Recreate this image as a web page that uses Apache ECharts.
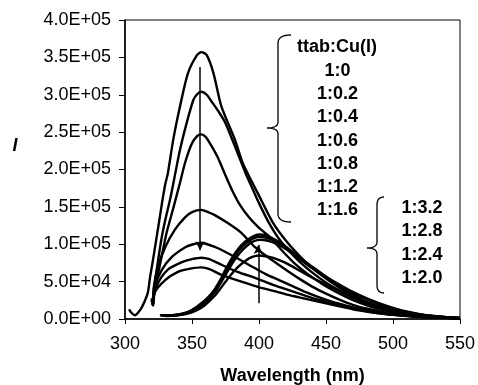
<!DOCTYPE html>
<html><head><meta charset="utf-8">
<script src="https://cdn.jsdelivr.net/npm/echarts@6/dist/echarts.min.js"></script>
<style>html,body{margin:0;padding:0;background:#fff}#c{width:478px;height:385px}</style>
</head><body><div id="c"></div>
<script>
// Data: [wavelength (nm), intensity]
const r1_0 = [[303,13000],[305,8000],[307.5,5000],[310,9000],[312.7,16000],[317,35000],[318.7,56000],[320.5,75000],[322.4,96000],[325,125000],[327.6,155000],[330,180000],[332,195000],[336,240000],[341,284000],[347,329000],[353.7,353000],[357,357000],[361,353000],[366,329000],[372,284000],[382,240000],[388,208000],[394,186000],[400,165000],[410,130000],[420,105000],[430,85000],[440,68000],[450,54000],[460,42000],[470,32000],[480,23000],[490,16000],[500,11000],[510,7500],[520,5000],[530,3000],[540,2000],[550,1500]];
const r1_02 = [[320,28000],[320.6,22000],[321.3,32000],[322,45000],[324,70000],[327,105000],[330,132000],[334,163000],[337,190000],[341,226000],[346,262000],[351,293000],[354,301000],[357,304000],[361,300000],[365,290000],[370,277000],[375,262000],[384,222000],[390,195000],[395,175000],[400,155000],[407,130000],[415,107000],[425,86000],[435,69000],[445,55000],[455,43000],[465,33000],[475,25000],[485,18000],[495,13000],[505,9000],[515,6000],[525,4000],[535,2500],[550,1000]];
const r1_04 = [[320,26000],[320.6,20000],[321.3,28000],[322,38000],[324,55000],[326,72000],[331,115000],[336,148000],[341,182000],[345,210000],[350,235000],[354,245000],[357,247000],[360,244000],[363.4,235000],[369,217000],[375,192000],[380,172000],[386,152000],[393,135000],[400,122000],[408,110000],[418,90000],[428,72000],[438,58000],[448,46000],[458,36000],[468,27000],[478,20000],[488,14000],[498,10000],[510,6000],[520,4000],[530,2500],[540,1500],[550,1000]];
const r1_06 = [[320,25000],[320.6,19000],[321,30000],[321.5,43000],[324.6,70000],[330,96000],[337,119000],[344.8,136000],[350,143000],[357,146000],[362,143000],[367,139000],[377,128000],[387,115000],[397,96000],[405,85000],[412,76000],[420,66000],[430,54000],[440,43000],[450,34000],[460,26000],[470,19000],[480,14000],[490,10000],[500,7000],[510,4500],[520,3000],[530,2000],[540,1500],[550,1000]];
const r1_08 = [[320,25000],[320.6,19000],[321.2,30000],[322,43000],[327.6,66000],[335,83000],[345,96000],[351,100000],[357,102000],[363,99000],[369,95000],[382,83000],[395,70000],[405,60000],[415,52000],[425,44000],[435,36000],[445,29000],[455,23000],[465,18000],[475,13500],[485,10000],[495,7000],[510,4000],[525,2500],[540,1500],[550,1000]];
const r1_12 = [[320.5,24000],[321,19000],[321.5,30000],[324.6,48000],[332,66000],[342.5,76000],[350,80000],[357,82000],[363,80000],[369,75000],[384,63000],[397,55000],[410,46000],[420,40000],[430,34000],[440,28000],[450,23000],[460,18000],[470,14000],[480,10500],[490,7500],[500,5500],[515,3500],[530,2000],[550,1000]];
const r1_16 = [[320.5,22000],[321,18000],[321.5,26000],[322,35000],[330,52000],[339.5,63000],[348,67000],[357,69000],[364,66000],[372,59000],[387,50000],[399,43000],[410,38000],[420,33000],[430,29000],[440,25000],[450,21000],[460,17000],[470,13000],[480,10000],[490,7500],[500,5500],[515,3500],[530,2000],[550,1000]];
const r3_2 = [[326,5000],[335,5000],[343,7000],[350,12000],[357,21000],[362,29000],[367,40000],[371,52000],[375,66000],[380,82000],[385,95000],[390,104000],[395,110000],[400,113000],[405,112000],[410,108000],[416,102000],[422,94000],[428,86000],[435,76000],[443,66000],[450,57000],[458,48000],[468,38000],[480,28000],[490,21000],[500,15000],[510,10000],[520,6500],[530,4000],[540,2500],[550,1500]];
const r2_8 = [[327,4500],[336,5000],[344,7500],[350,11500],[357,20000],[362,28000],[367,38000],[371,50000],[375,63000],[380,79000],[385,92000],[390,101000],[395,107000],[400,110000],[405,109000],[410,106000],[416,100000],[422,92000],[428,84000],[435,74000],[443,64000],[450,55000],[458,46000],[468,36000],[480,27000],[490,20000],[500,14000],[510,9500],[520,6000],[530,4000],[540,2500],[550,1500]];
const r2_4 = [[328,4500],[337,5000],[345,7000],[351,11000],[357,18000],[363,27000],[368,38000],[372,50000],[376,62000],[381,77000],[386,89000],[391,98000],[396,104000],[401,106000],[406,105000],[411,102000],[417,97000],[423,90000],[430,81000],[437,72000],[445,62000],[452,53000],[460,45000],[470,35000],[480,27000],[490,19500],[500,14000],[510,9000],[520,6000],[530,3500],[540,2000],[550,1200]];
const r2_0 = [[330,4000],[340,5000],[350,9000],[357,15000],[363,24000],[368,33000],[373,45000],[378,57000],[384,69000],[390,78000],[395,83000],[400,85000],[405,84000],[410,82000],[416,78000],[422,73000],[430,65000],[440,55000],[450,46000],[460,38000],[470,30000],[480,23000],[490,17000],[500,12000],[510,8000],[520,5000],[530,3000],[540,2000],[550,1000]];

const seriesNames = ['1:0','1:0.2','1:0.4','1:0.6','1:0.8','1:1.2','1:1.6','1:3.2','1:2.8','1:2.4','1:2.0'];
const seriesData = [r1_0,r1_02,r1_04,r1_06,r1_08,r1_12,r1_16,r3_2,r2_8,r2_4,r2_0];
const groupA = ['1:0','1:0.2','1:0.4','1:0.6','1:0.8','1:1.2','1:1.6'];
const groupB = ['1:3.2','1:2.8','1:2.4','1:2.0'];
const legendTitle = 'ttab:Cu(I)';
// arrows: [wavelength, from intensity, to intensity]
const arrowDown = [356, 337000, 92000];
const arrowUp = [399.5, 21000, 99000];
const xTicks = {min:300, max:550, interval:50};
const yTicks = {min:0, max:400000, interval:50000};

function sci(v){
  if (v === 0) return '0.0E+00';
  const e = Math.floor(Math.log10(v) + 1e-9);
  const m = v / Math.pow(10, e);
  return m.toFixed(1) + 'E+' + String(e).padStart(2,'0');
}

const chart = echarts.init(document.getElementById('c'));
const FONT = '"Liberation Sans", Arial, sans-serif';

const series = seriesData.map((d,i)=>({
  name: seriesNames[i], type:'line', data:d, showSymbol:false, smooth:0.25,
  lineStyle:{color:'#000', width:2.4}, z:3
}));
series[0].markLine = {
  silent:true, symbol:['none','arrow'], symbolSize:[7,9],
  lineStyle:{color:'#000', width:1.5, type:'solid'}, label:{show:false},
  data:[
    [{coord:[arrowDown[0],arrowDown[1]]},{coord:[arrowDown[0],arrowDown[2]]}],
    [{coord:[arrowUp[0],arrowUp[1]]},{coord:[arrowUp[0],arrowUp[2]]}]
  ]
};

const graphics = [];
const tStyle = (text,x,y)=>({type:'text', x:x, y:y, style:{text:text, font:'bold 18px '+FONT, fill:'#000', textAlign:'center', textVerticalAlign:'middle'}});
graphics.push(tStyle(legendTitle, 337, 47));
groupA.forEach((t,i)=>graphics.push(tStyle(t, 337.5, 71 + i*23.2)));
groupB.forEach((t,i)=>graphics.push(tStyle(t, 422, 208 + i*23.3)));
graphics.push({type:'text', x:15, y:146, style:{text:'I', font:'italic bold 18px '+FONT, fill:'#000', textAlign:'center', textVerticalAlign:'middle'}});
function quad(p0,p1,p2,n){
  const out=[];
  for(let k=0;k<=n;k++){const t=k/n;const a=(1-t)*(1-t),b=2*(1-t)*t,c=t*t;out.push([a*p0[0]+b*p1[0]+c*p2[0], a*p0[1]+b*p1[1]+c*p2[1]]);}
  return out;
}
function brace(tx, vx, cx, top, cy, bot){
  const r = 8, q = 6;
  let pts = [];
  pts = pts.concat(quad([tx,top],[vx,top],[vx,top+r],8));
  pts = pts.concat(quad([vx,cy-q],[vx,cy],[cx,cy],8));
  pts = pts.concat(quad([cx,cy],[vx,cy],[vx,cy+q],8));
  pts = pts.concat(quad([vx,bot-r],[vx,bot],[tx,bot],8));
  return {type:'polyline', shape:{points:pts}, style:{stroke:'#000', lineWidth:1.3, fill:null}};
}
graphics.push(brace(291, 278, 267, 35, 128, 222));
graphics.push(brace(384, 377, 367, 197, 248, 293));

chart.setOption({
  animation:false,
  backgroundColor:'#fff',
  grid:{left:125, right:18, top:20, bottom:66, show:true, borderColor:'#000', borderWidth:1, containLabel:false, outerBoundsMode:'none'},
  xAxis:{type:'value', min:xTicks.min, max:xTicks.max, interval:xTicks.interval,
    name:'Wavelength (nm)', nameLocation:'middle', nameGap:48,
    nameTextStyle:{fontFamily:FONT, fontSize:18, fontWeight:'bold', color:'#000'},
    axisLine:{show:true, onZero:false, lineStyle:{color:'#000', width:1.5}},
    axisTick:{show:true, length:5, lineStyle:{color:'#000'}},
    axisLabel:{fontFamily:FONT, fontSize:18, color:'#000', margin:16},
    splitLine:{show:false}},
  yAxis:{type:'value', min:yTicks.min, max:yTicks.max, interval:yTicks.interval,
    axisLine:{show:true, lineStyle:{color:'#000', width:1.5}},
    axisTick:{show:true, length:6, lineStyle:{color:'#000'}},
    axisLabel:{fontFamily:FONT, fontSize:18, color:'#000', margin:14, formatter:sci},
    splitLine:{show:false}},
  series: series,
  graphic: graphics
});
</script></body></html>
